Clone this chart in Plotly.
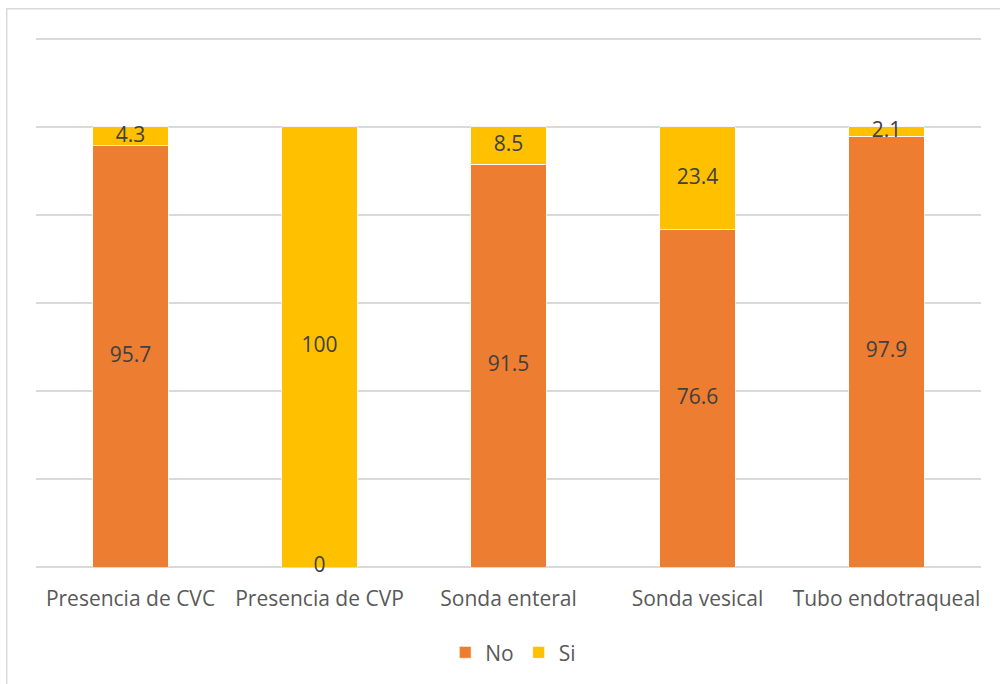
import plotly.graph_objects as go

categories = ["Presencia de CVC", "Presencia de CVP", "Sonda enteral", "Sonda vesical", "Tubo endotraqueal"]
no_values = [95.7, 0, 91.5, 76.6, 97.9]
si_values = [4.3, 100, 8.5, 23.4, 2.1]

ORANGE = "#ED7D31"
YELLOW = "#FFC000"
FONT = "Open Sans"

fig = go.Figure()
fig.add_trace(go.Bar(x=categories, y=no_values, name="No", marker=dict(color=ORANGE, line=dict(color="white", width=0.75))))
fig.add_trace(go.Bar(x=categories, y=si_values, name="Si", marker=dict(color=YELLOW, line=dict(color="white", width=0.75))))

# data labels at segment centres
no_mid = [v / 2 for v in no_values]
si_mid = [n + s / 2 for n, s in zip(no_values, si_values)]
fmt = lambda v: f"{v:g}"
fig.add_trace(go.Scatter(x=categories, y=no_mid, mode="text", text=[fmt(v) for v in no_values],
                         textfont=dict(family=FONT, size=21, color="#404040"), showlegend=False,
                         hoverinfo="skip", cliponaxis=False))
fig.add_trace(go.Scatter(x=categories, y=si_mid, mode="text", text=[fmt(v) for v in si_values],
                         textfont=dict(family=FONT, size=21, color="#404040"), showlegend=False,
                         hoverinfo="skip", cliponaxis=False))

fig.update_layout(
    width=1000, height=684,
    barmode="stack", bargap=0.6,
    paper_bgcolor="white", plot_bgcolor="white",
    margin=dict(l=36, r=19, t=37, b=117, autoexpand=False),
    font=dict(family=FONT, size=21, color="#595959"),
    legend=dict(orientation="h", x=0.505, xanchor="center", y=-0.123, yanchor="top",
                font=dict(size=21, color="#595959"), traceorder="normal"),
    xaxis=dict(showgrid=False, showline=False, ticks="", ticklabelstandoff=17, automargin=False,
               tickfont=dict(size=21, color="#595959")),
    yaxis=dict(range=[0, 120.45], tickvals=[0, 20, 40, 60, 80, 100, 120], showticklabels=False, showgrid=True,
               automargin=False,
               gridcolor="#d9d9d9", gridwidth=1.5, zeroline=True, zerolinecolor="#d9d9d9",
               zerolinewidth=1.5),
    shapes=[dict(type="rect", xref="paper", yref="paper", x0=-0.031, x1=1.05, y0=-0.3, y1=1.0535,
                 line=dict(color="#d9d9d9", width=1.5), fillcolor="rgba(0,0,0,0)", layer="below")],
)

fig.write_html("out.html", config={"displayModeBar": False},
               post_script="document.body.style.margin='0';document.body.style.overflow='hidden';")
